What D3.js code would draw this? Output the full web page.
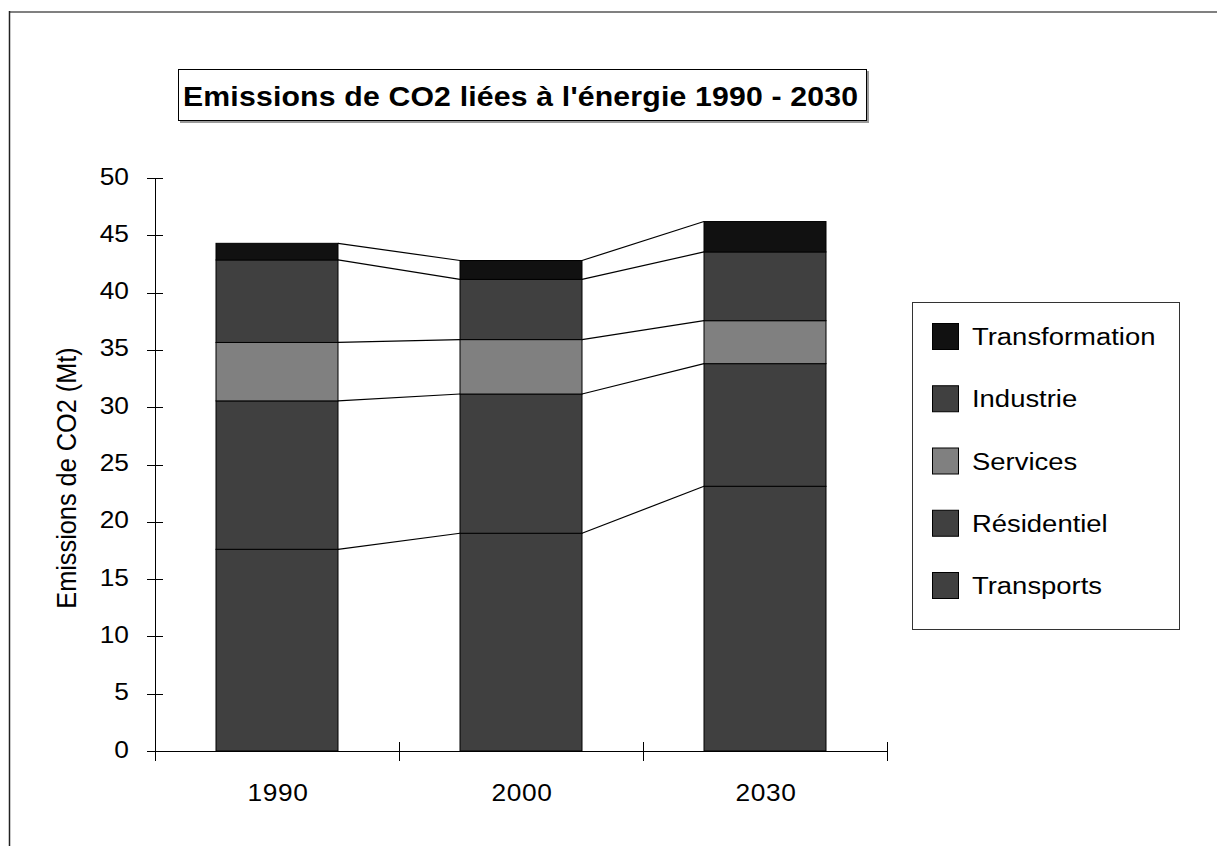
<!DOCTYPE html>
<html>
<head>
<meta charset="utf-8">
<script src="https://cdn.jsdelivr.net/npm/d3@7"></script>
<style>
  html, body { margin: 0; padding: 0; background: #fff; }
  svg { display: block; font-family: "Liberation Sans", Arial, sans-serif; }
</style>
</head>
<body>
<svg id="chart" width="1217" height="846"></svg>
<script>
// Energy-related CO2 emissions by sector (Mt)
const years = ["1990", "2000", "2030"];
const transports = [17.6, 19.0, 23.1];
const residentiel = [12.95, 12.15, 10.7];
const services = [5.1, 4.75, 3.75];
const industrie = [7.2, 5.25, 6.0];
const transformation = [1.45, 1.65, 2.65];
const yTicks = [0, 5, 10, 15, 20, 25, 30, 35, 40, 45, 50];

const seriesNames = ["Transports", "Résidentiel", "Services", "Industrie", "Transformation"];
const seriesValues = [transports, residentiel, services, industrie, transformation];
const colors = { "Transports": "#404040", "Résidentiel": "#404040", "Services": "#808080",
                 "Industrie": "#404040", "Transformation": "#111111" };

// text in this chart is set slightly wide
const SX = 1.12;

const rows = years.map((y, i) => {
  const r = { year: y };
  seriesNames.forEach((s, k) => r[s] = seriesValues[k][i]);
  return r;
});
const stacked = d3.stack().keys(seriesNames)(rows);

const svg = d3.select("#chart");

// outer frame
svg.append("line").attr("x1", 9).attr("x2", 1217).attr("y1", 12).attr("y2", 12)
  .attr("stroke", "#808080").attr("stroke-width", 2);
svg.append("line").attr("x1", 9.5).attr("x2", 9.5).attr("y1", 11).attr("y2", 846)
  .attr("stroke", "#222").attr("stroke-width", 1.5);

// title box
svg.append("rect").attr("x", 180).attr("y", 71).attr("width", 689).attr("height", 52)
  .attr("fill", "#9a9a9a");
svg.append("rect").attr("x", 178.5).attr("y", 69.5).attr("width", 688).attr("height", 51)
  .attr("fill", "#fff").attr("stroke", "#000").attr("stroke-width", 1);
svg.append("text")
  .attr("transform", `translate(183,106) scale(${SX},1)`)
  .attr("font-size", 27).attr("font-weight", "bold").attr("fill", "#000")
  .attr("textLength", 675 / SX).attr("lengthAdjust", "spacing")
  .text("Emissions de CO2 liées à l'énergie 1990 - 2030");

const x = d3.scaleBand().domain(years).range([155, 887]).paddingInner(0.5).paddingOuter(0.25);
const y = d3.scaleLinear().domain([0, 50]).range([751, 178]);

// bars
const g = svg.append("g");
stacked.forEach(layer => {
  g.selectAll(null).data(layer).enter().append("rect")
    .attr("x", (d, i) => x(years[i]))
    .attr("y", d => y(d[1]))
    .attr("width", x.bandwidth())
    .attr("height", d => y(d[0]) - y(d[1]))
    .attr("fill", colors[layer.key])
    .attr("stroke", "#000").attr("stroke-width", 1);
});

// series lines joining segment tops between neighbouring bars
stacked.forEach(layer => {
  for (let i = 0; i < years.length - 1; i++) {
    g.append("line")
      .attr("x1", x(years[i]) + x.bandwidth()).attr("y1", y(layer[i][1]))
      .attr("x2", x(years[i + 1])).attr("y2", y(layer[i + 1][1]))
      .attr("stroke", "#000").attr("stroke-width", 1.2);
  }
});

// y axis
const yAxis = svg.append("g");
yAxis.append("line").attr("x1", 155.5).attr("x2", 155.5).attr("y1", y(50)).attr("y2", y(0))
  .attr("stroke", "#000");
yAxis.selectAll(".yt").data(yTicks).enter().append("line")
  .attr("x1", 147).attr("x2", 163)
  .attr("y1", d => Math.round(y(d)) + 0.5).attr("y2", d => Math.round(y(d)) + 0.5)
  .attr("stroke", "#000");
yAxis.selectAll(".yl").data(yTicks).enter().append("text")
  .attr("transform", d => `translate(129,${y(d) + 6.5}) scale(${SX},1)`)
  .attr("text-anchor", "end").attr("font-size", 23.5).attr("fill", "#000")
  .text(d => d);

// x axis
const xAxis = svg.append("g");
xAxis.append("line").attr("x1", 147).attr("x2", 887).attr("y1", y(0) + 0.5).attr("y2", y(0) + 0.5)
  .attr("stroke", "#000");
const bounds = [155, 155 + x.step(), 155 + 2 * x.step(), 887];
xAxis.selectAll(".xt").data(bounds).enter().append("line")
  .attr("x1", d => Math.round(d) + 0.5).attr("x2", d => Math.round(d) + 0.5)
  .attr("y1", y(0) - 9).attr("y2", y(0) + 10)
  .attr("stroke", "#000");
xAxis.selectAll(".xl").data(years).enter().append("text")
  .attr("transform", d => `translate(${x(d) + x.bandwidth() / 2 + 1},801) scale(${SX},1)`)
  .attr("text-anchor", "middle").attr("font-size", 23.5).attr("letter-spacing", 0.6).attr("fill", "#000")
  .text(d => d);

// y axis title
svg.append("text")
  .attr("transform", `translate(76,478) scale(${SX},1) rotate(-90)`)
  .attr("text-anchor", "middle").attr("font-size", 25.3).attr("fill", "#000")
  .text("Emissions de CO2 (Mt)");

// legend
const legend = svg.append("g");
legend.append("rect").attr("x", 912.5).attr("y", 302.5).attr("width", 267).attr("height", 327)
  .attr("fill", "#fff").attr("stroke", "#333").attr("stroke-width", 1);
const legendOrder = seriesNames.slice().reverse();
const ly = d3.scalePoint().domain(legendOrder).range([337, 586]);
legend.selectAll(".sw").data(legendOrder).enter().append("rect")
  .attr("x", 932.5).attr("y", d => ly(d) - 13.5).attr("width", 26).attr("height", 26)
  .attr("fill", d => colors[d]).attr("stroke", "#000").attr("stroke-width", 1);
legend.selectAll(".lt").data(legendOrder).enter().append("text")
  .attr("transform", d => `translate(972,${ly(d) + 8}) scale(${SX},1)`)
  .attr("font-size", 24.5).attr("fill", "#000")
  .text(d => d);
</script>
</body>
</html>
